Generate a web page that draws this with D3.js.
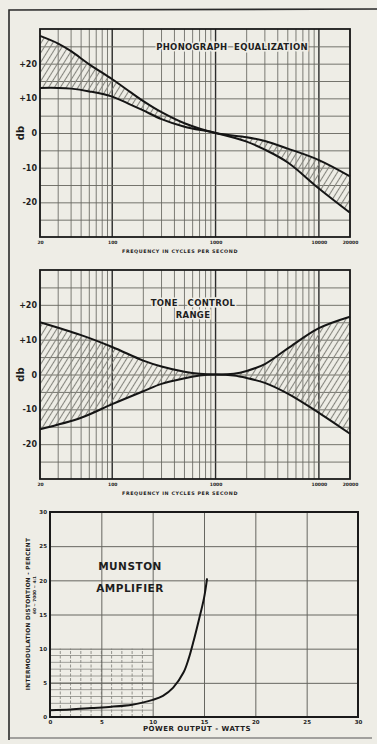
<!DOCTYPE html>
<html>
<head>
<meta charset="utf-8">
<script src="https://cdn.jsdelivr.net/npm/d3@7"></script>
<style>
body { margin: 0; background: #eeede6; }
svg { display: block; }
text { font-family: "DejaVu Sans", sans-serif; font-weight: bold; fill: #1e1e1e; white-space: pre; }
</style>
</head>
<body>
<div id="chart"></div>
<script>
// frequency response charts
const freqTicks = [20, 100, 1000, 10000, 20000];
const freqTickLabels = ["20", "100", "1000", "10000", "20000"];
const dbTicks = [20, 10, 0, -10, -20];
const dbTickLabels = ["+20", "+10", "0", "-10", "-20"];

const phonoFreq = [20, 30, 40, 60, 100, 150, 200, 300, 500, 1000, 2000, 3000, 5000, 10000, 20000];
const phonoUpper = [28, 25.8, 23.6, 19.8, 15.5, 11.8, 9.2, 6, 2.8, 0, -1.2, -2.3, -4.5, -7.8, -12.5];
const phonoLower = [13, 13, 12.8, 12, 10.5, 8.2, 6.5, 4, 1.8, 0, -2.5, -4.8, -8.5, -16, -23];

const toneFreq = [20, 50, 100, 200, 300, 500, 700, 1000, 1500, 2000, 3000, 5000, 10000, 20000];
const toneUpper = [15, 11.3, 7.9, 4, 2.3, 0.8, 0.2, 0, 0.2, 1, 3, 7.5, 13.3, 16.6];
const toneLower = [-15.7, -12.4, -8.5, -4.8, -2.7, -1.1, -0.3, 0, -0.3, -1, -2.4, -5.5, -11, -17];

// distortion chart
const wattTicks = [0, 5, 10, 15, 20, 25, 30];
const pctTicks = [0, 5, 10, 15, 20, 25, 30];
const imWatts = [0, 2, 4, 6, 8, 9, 10, 11, 12, 13, 13.5, 14, 14.5, 15, 15.3];
const imPercent = [1.0, 1.1, 1.3, 1.5, 1.8, 2.1, 2.5, 3.1, 4.3, 6.5, 8.5, 11.2, 14.2, 17.4, 20.3];

const W = 377, H = 744;

let svg = d3.select("#chart").append("svg")
	.attr("width", W)
	.attr("height", H);

let defs = svg.append("defs");
defs.append("pattern")
	.attr("id", "hatch")
	.attr("patternUnits", "userSpaceOnUse")
	.attr("width", 5)
	.attr("height", 10)
	.attr("patternTransform", "rotate(32)")
	.append("line")
	.attr("x1", 2.5).attr("x2", 2.5)
	.attr("y1", 0).attr("y2", 10)
	.attr("stroke", "#85857e")
	.attr("stroke-width", 1.1);

// page frame
svg.append("path")
	.attr("d", "M9,740 L9,10 L377,9")
	.attr("fill", "none")
	.attr("stroke", "#2a2a2a")
	.attr("stroke-width", 1.6);
svg.append("line")
	.attr("x1", 9).attr("x2", 372).attr("y1", 738).attr("y2", 738)
	.attr("stroke", "#555").attr("stroke-width", 1.2);

function drawFreqChart(cfg) {
	let x = d3.scaleLog()
		.domain([20, 20000])
		.range([40, 350]);
	let y = d3.scaleLinear()
		.domain([-30, 30])
		.range([cfg.bottom, cfg.top]);
	let g = svg.append("g");

	// log grid
	let minor = x.ticks();
	g.selectAll(".vgrid")
		.data(minor)
		.enter()
		.append("line")
		.attr("x1", d => x(d)).attr("x2", d => x(d))
		.attr("y1", y(30)).attr("y2", y(-30))
		.attr("stroke", d => [100, 1000, 10000].includes(d) ? "#2b2b2b" : "#6e6e68")
		.attr("stroke-width", d => [100, 1000, 10000].includes(d) ? 1.4 : 0.9);

	g.append("g")
		.attr("transform", "translate(40,0)")
		.call(d3.axisLeft(y).tickValues(d3.range(-25, 30, 5)).tickSize(-310).tickFormat(""))
		.call(a => a.select(".domain").remove())
		.selectAll("line")
		.attr("stroke", "#66665f")
		.attr("stroke-width", 0.9);

	// shaded band between the two curves
	let idx = d3.range(cfg.freq.length);
	g.append("path")
		.datum(idx)
		.attr("fill", "url(#hatch)")
		.attr("d", d3.area()
			.x(i => x(cfg.freq[i]))
			.y0(i => y(cfg.lower[i]))
			.y1(i => y(cfg.upper[i]))
			.curve(d3.curveCatmullRom));

	[cfg.upper, cfg.lower].forEach(function(vals) {
		g.append("path")
			.datum(idx)
			.attr("fill", "none")
			.attr("stroke", "#151515")
			.attr("stroke-width", 2)
			.attr("d", d3.line()
				.x(i => x(cfg.freq[i]))
				.y(i => y(vals[i]))
				.curve(d3.curveCatmullRom));
	});

	g.append("rect")
		.attr("x", 40).attr("y", cfg.top)
		.attr("width", 310).attr("height", cfg.bottom - cfg.top)
		.attr("fill", "none")
		.attr("stroke", "#1a1a1a")
		.attr("stroke-width", 1.8);

	// db labels
	g.append("g")
		.attr("transform", "translate(38,0)")
		.call(d3.axisLeft(y).tickValues(dbTicks).tickSize(0).tickPadding(1)
			.tickFormat((d, i) => dbTickLabels[i]))
		.call(a => a.select(".domain").remove())
		.selectAll("text")
		.style("font-size", "8px");

	g.append("text")
		.attr("transform", "translate(20," + y(0) + ") rotate(-90)")
		.attr("text-anchor", "middle")
		.attr("dy", "0.35em")
		.style("font-size", "10px")
		.text("db");

	// frequency labels
	g.append("g")
		.attr("transform", "translate(0," + (cfg.bottom + 2) + ")")
		.call(d3.axisBottom(x).tickValues(freqTicks).tickSize(0).tickPadding(2)
			.tickFormat((d, i) => freqTickLabels[i]))
		.call(a => a.select(".domain").remove())
		.selectAll("text")
		.style("font-size", "4.5px");

	g.append("text")
		.attr("x", 180).attr("y", cfg.bottom + 16)
		.attr("text-anchor", "middle")
		.style("font-size", "4.8px")
		.style("letter-spacing", "0.6px")
		.attr("fill", "#444")
		.text("FREQUENCY IN CYCLES PER SECOND");

	cfg.title.forEach(function(t, i) {
		g.append("text")
			.attr("x", cfg.titleX).attr("y", cfg.titleY + i * 12)
			.attr("text-anchor", "middle")
			.style("font-size", "8.5px")
			.style("letter-spacing", "0.3px")
			.attr("stroke", "#eeede6").attr("stroke-width", 3).attr("paint-order", "stroke")
			.text(t);
	});
}

drawFreqChart({
	top: 29, bottom: 237,
	freq: phonoFreq, upper: phonoUpper, lower: phonoLower,
	title: ["PHONOGRAPH  EQUALIZATION"], titleX: 232, titleY: 50
});

drawFreqChart({
	top: 270, bottom: 479,
	freq: toneFreq, upper: toneUpper, lower: toneLower,
	title: ["TONE   CONTROL", "RANGE"], titleX: 193, titleY: 306
});

// intermodulation distortion chart
function drawDistortion() {
	let x = d3.scaleLinear().domain([0, 30]).range([50, 358]);
	let y = d3.scaleLinear().domain([0, 30]).range([717, 512]);
	let g = svg.append("g");

	// fine grid, 0-10 W and 0-10 %
	let fine = d3.range(1, 10);
	g.selectAll(".fv")
		.data(fine)
		.enter()
		.append("line")
		.attr("x1", d => x(d)).attr("x2", d => x(d))
		.attr("y1", y(0)).attr("y2", y(10))
		.attr("stroke", "#7c7c76").attr("stroke-width", 0.8)
		.attr("stroke-dasharray", "3,1.5");
	g.selectAll(".fh")
		.data(fine)
		.enter()
		.append("line")
		.attr("x1", x(0)).attr("x2", x(10))
		.attr("y1", d => y(d)).attr("y2", d => y(d))
		.attr("stroke", "#8a8a84").attr("stroke-width", 0.8);

	g.append("g")
		.attr("transform", "translate(0,717)")
		.call(d3.axisBottom(x).tickValues([5, 10, 15, 20, 25]).tickSize(-205).tickFormat(""))
		.call(a => a.select(".domain").remove())
		.selectAll("line")
		.attr("stroke", "#666660").attr("stroke-width", 1);
	g.append("g")
		.attr("transform", "translate(50,0)")
		.call(d3.axisLeft(y).tickValues([5, 10, 15, 20, 25]).tickSize(-308).tickFormat(""))
		.call(a => a.select(".domain").remove())
		.selectAll("line")
		.attr("stroke", "#666660").attr("stroke-width", 1);

	let idx = d3.range(imWatts.length);
	g.append("path")
		.datum(idx)
		.attr("fill", "none")
		.attr("stroke", "#151515")
		.attr("stroke-width", 2)
		.attr("d", d3.line()
			.x(i => x(imWatts[i]))
			.y(i => y(imPercent[i]))
			.curve(d3.curveCatmullRom));

	g.append("rect")
		.attr("x", 50).attr("y", 512)
		.attr("width", 308).attr("height", 205)
		.attr("fill", "none")
		.attr("stroke", "#1a1a1a")
		.attr("stroke-width", 2);

	g.append("g")
		.attr("transform", "translate(48,0)")
		.call(d3.axisLeft(y).tickValues(pctTicks).tickSize(0).tickPadding(1))
		.call(a => a.select(".domain").remove())
		.selectAll("text")
		.style("font-size", "5.5px");

	g.append("g")
		.attr("transform", "translate(0,719)")
		.call(d3.axisBottom(x).tickValues(wattTicks).tickSize(0).tickPadding(1))
		.call(a => a.select(".domain").remove())
		.selectAll("text")
		.style("font-size", "5.5px");

	g.append("text")
		.attr("x", 197).attr("y", 731)
		.attr("text-anchor", "middle")
		.style("font-size", "7px")
		.style("letter-spacing", "0.5px")
		.text("POWER OUTPUT - WATTS");

	g.append("text")
		.attr("transform", "translate(30,614) rotate(-90)")
		.attr("text-anchor", "middle")
		.style("font-size", "5.8px")
		.style("letter-spacing", "0.3px")
		.text("INTERMODULATION DISTORTION - PERCENT");
	g.append("text")
		.attr("transform", "translate(36,595) rotate(-90)")
		.attr("text-anchor", "middle")
		.style("font-size", "4.2px")
		.text("60 ~ 7000 ~ 4:1");

	g.append("text")
		.attr("x", 130).attr("y", 570)
		.attr("text-anchor", "middle")
		.style("font-size", "10.5px")
		.style("letter-spacing", "0.5px")
		.text("MUNSTON");
	g.append("text")
		.attr("x", 130).attr("y", 592)
		.attr("text-anchor", "middle")
		.style("font-size", "10.5px")
		.style("letter-spacing", "0.5px")
		.text("AMPLIFIER");
}

drawDistortion();
</script>
</body>
</html>
